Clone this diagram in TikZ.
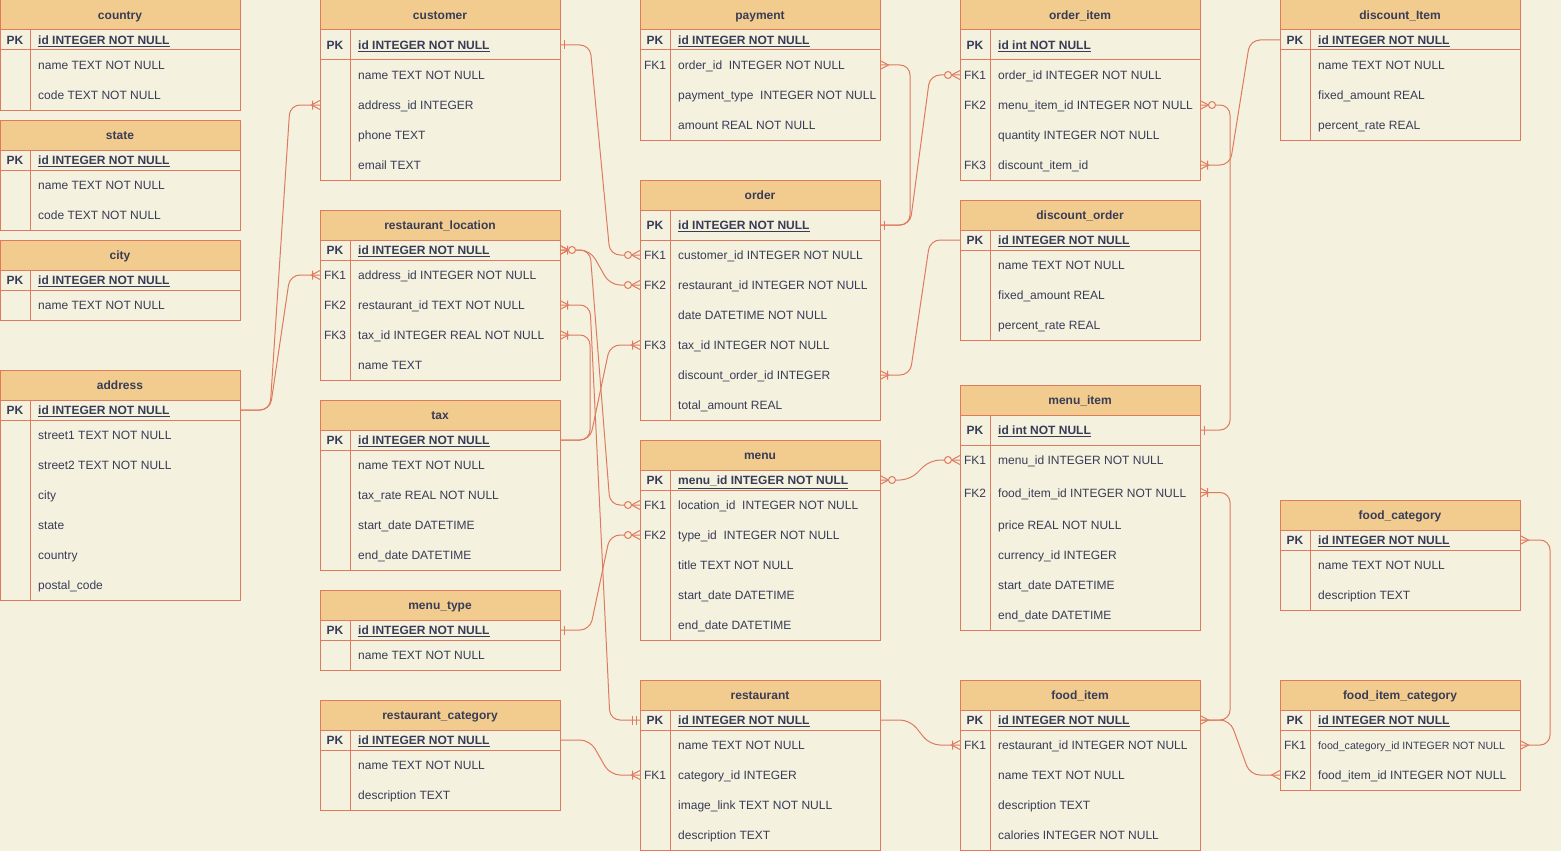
\documentclass[tikz,border=0pt]{standalone}
\usepackage{fontspec}
\setmainfont{Liberation Sans}
\usetikzlibrary{calc}

\definecolor{erbg}{HTML}{F4F1DE}
\definecolor{erfill}{HTML}{F2CC8F}
\definecolor{erstroke}{HTML}{E07A5F}
\definecolor{ertext}{HTML}{393C56}

\newcommand{\smallfield}{\fontsize{10.6pt}{12pt}\selectfont}

% one table: name, x, y, title, height of PK row, PK field, other rows key/field/height
\newcommand{\ertable}[7]{%
  \node[tblhead] (#1) at (#2,#3) {#4};
  \node[tblrow, minimum height=#5pt] (#1-pk) at (#1.south west) {};
  \node[keylabel, font=\bfseries] at ($(#1-pk.west)+(15,0)$) {PK};
  \node[fieldlabel] at ($(#1-pk.west)+(38,0)$) {\textbf{\underline{#6}}};
  \coordinate (#1-end) at (#1-pk.south west);
  \foreach \k/\f/\h [count=\i] in {#7} {
    \node[tblrow, minimum height=\h pt] (#1-\i) at (#1-end) {};
    \node[keylabel] at ($(#1-\i.west)+(15,0)$) {\k};
    \node[fieldlabel] at ($(#1-\i.west)+(38,0)$) {\f};
    \coordinate (#1-end) at (#1-\i.south west);
  }
  \draw[tblline] (#1.north west) rectangle ($(#1-end)+(240,0)$);
  \draw[tblline] (#1-pk.south west) -- (#1-pk.south east);
  \draw[tblline] ($(#1-pk.north west)+(30,0)$) -- ($(#1-end)+(30,0)$);
}

\tikzset{
  tblhead/.style={draw=erstroke, line width=1pt, fill=erfill, text=ertext, font=\bfseries,
    minimum width=240pt, minimum height=30pt, inner sep=0pt, outer sep=0pt, anchor=north west,
    text height=12.4pt, text depth=2.5pt},
  tblrow/.style={minimum width=240pt, inner sep=0pt, outer sep=0pt, anchor=north west},
  tblline/.style={draw=erstroke, line width=1pt},
  keylabel/.style={text=ertext, inner sep=0pt, text height=12.4pt, text depth=2.5pt},
  fieldlabel/.style={keylabel, anchor=west},
  erline/.style={draw=erstroke, line width=1pt},
  link ew/.style={to path={-- ++(30,0) -- ($(\tikztotarget)+(-30,0)$) -- (\tikztotarget)}},
  link ee/.style={to path={-- ++(30,0) -- ($(\tikztotarget)+(30,0)$) -- (\tikztotarget)}},
  link we/.style={to path={-- ++(-30,0) -- ($(\tikztotarget)+(30,0)$) -- (\tikztotarget)}},
  erOne/.pic={\draw[erline] (4,-4.5) -- (4,4.5);},
  erMandOne/.pic={\draw[erline] (4,-4.5) -- (4,4.5) (8,-4.5) -- (8,4.5);},
  erMany/.pic={\draw[erline] (0,-4.5) -- (8.5,0) -- (0,4.5);},
  erOneToMany/.pic={\draw[erline] (0,-4.5) -- (8.5,0) -- (0,4.5) (7.5,-4.5) -- (7.5,4.5);},
  erZeroToMany/.pic={\draw[erline] (0,-4.5) -- (8.5,0) -- (0,4.5);
    \draw[erline, fill=erbg] (12,0) circle (3.5);},
}

\begin{document}
\fontsize{12pt}{14pt}\selectfont
\begin{tikzpicture}[x=1pt, y=-1pt]
  \fill[erbg] (0,0) rectangle (1561,851);
  \useasboundingbox (0,0) rectangle (1561,851);

  \ertable{country}{0}{0}{country}{20}{id INTEGER NOT NULL}
    {/name TEXT NOT NULL/30, /code TEXT NOT NULL/30}
  \ertable{state}{0}{120}{state}{20}{id INTEGER NOT NULL}
    {/name TEXT NOT NULL/30, /code TEXT NOT NULL/30}
  \ertable{city}{0}{240}{city}{20}{id INTEGER NOT NULL}
    {/name TEXT NOT NULL/30}
  \ertable{address}{0}{370}{address}{20}{id INTEGER NOT NULL}
    {/street1 TEXT NOT NULL/30, /street2 TEXT NOT NULL/30, /city/30, /state/30, /country/30, /postal\_code/30}

  \ertable{customer}{320}{0}{customer}{30}{id INTEGER NOT NULL}
    {/name TEXT NOT NULL/30, /address\_id INTEGER/30, /phone TEXT/30, /email TEXT/30}
  \ertable{restLoc}{320}{210}{restaurant\_location}{20}{id INTEGER NOT NULL}
    {FK1/address\_id INTEGER NOT NULL/30, FK2/restaurant\_id TEXT NOT NULL/30,
     FK3/tax\_id INTEGER REAL NOT NULL/30, /name TEXT/30}
  \ertable{tax}{320}{400}{tax}{20}{id INTEGER NOT NULL}
    {/name TEXT NOT NULL/30, /tax\_rate REAL NOT NULL/30, /start\_date DATETIME/30, /end\_date DATETIME/30}
  \ertable{menuType}{320}{590}{menu\_type}{20}{id INTEGER NOT NULL}
    {/name TEXT NOT NULL/30}
  \ertable{restCat}{320}{700}{restaurant\_category}{20}{id INTEGER NOT NULL}
    {/name TEXT NOT NULL/30, /description TEXT/30}

  \ertable{payment}{640}{0}{payment}{20}{id INTEGER NOT NULL}
    {FK1/order\_id\ \ INTEGER NOT NULL/30, /payment\_type\ \ INTEGER NOT NULL/30, /amount REAL NOT NULL/30}
  \ertable{order}{640}{180}{order}{30}{id INTEGER NOT NULL}
    {FK1/customer\_id INTEGER NOT NULL/30, FK2/restaurant\_id INTEGER NOT NULL/30, /date DATETIME NOT NULL/30,
     FK3/tax\_id INTEGER NOT NULL/30, /discount\_order\_id INTEGER/30, /total\_amount REAL/30}
  \ertable{menu}{640}{440}{menu}{20}{menu\_id INTEGER NOT NULL}
    {FK1/location\_id\ \ INTEGER NOT NULL/30, FK2/type\_id\ \ INTEGER NOT NULL/30, /title TEXT NOT NULL/30,
     /start\_date DATETIME/30, /end\_date DATETIME/30}
  \ertable{restaurant}{640}{680}{restaurant}{20}{id INTEGER NOT NULL}
    {/name TEXT NOT NULL/30, FK1/category\_id INTEGER/30, /image\_link TEXT NOT NULL/30, /description TEXT/30}

  \ertable{orderItem}{960}{0}{order\_item}{30}{id int NOT NULL}
    {FK1/order\_id INTEGER NOT NULL/30, FK2/menu\_item\_id INTEGER NOT NULL/30,
     /quantity INTEGER NOT NULL/30, FK3/discount\_item\_id/30}
  \ertable{discOrder}{960}{200}{discount\_order}{20}{id INTEGER NOT NULL}
    {/name TEXT NOT NULL/30, /fixed\_amount REAL/30, /percent\_rate REAL/30}
  \ertable{menuItem}{960}{385}{menu\_item}{30}{id int NOT NULL}
    {FK1/menu\_id INTEGER NOT NULL/30, FK2/food\_item\_id INTEGER NOT NULL/35, /price REAL NOT NULL/30,
     /currency\_id INTEGER/30, /start\_date DATETIME/30, /end\_date DATETIME/30}
  \ertable{foodItem}{960}{680}{food\_item}{20}{id INTEGER NOT NULL}
    {FK1/restaurant\_id INTEGER NOT NULL/30, /name TEXT NOT NULL/30, /description TEXT/30,
     /calories INTEGER NOT NULL/30}

  \ertable{discItem}{1280}{0}{discount\_Item}{20}{id INTEGER NOT NULL}
    {/name TEXT NOT NULL/30, /fixed\_amount REAL/30, /percent\_rate REAL/30}
  \ertable{foodCat}{1280}{500}{food\_category}{20}{id INTEGER NOT NULL}
    {/name TEXT NOT NULL/30, /description TEXT/30}
  \ertable{foodItemCat}{1280}{680}{food\_item\_category}{20}{id INTEGER NOT NULL}
    {FK1/{\smallfield food\_category\_id INTEGER NOT NULL}/30, FK2/food\_item\_id INTEGER NOT NULL/30}

  % relations
  \begin{scope}[erline, rounded corners=10pt]
    \draw (address-pk.east) to[link ew] (customer-2.west);
    \draw (address-pk.east) to[link ew] (restLoc-1.west);
    \draw (customer-pk.east) to[link ew] (order-1.west);
    \draw (restLoc-pk.east) to[link ew] (order-2.west);
    \draw (restLoc-pk.east) to[link ew] (menu-1.west);
    \draw (restLoc-2.east) to[link ew] (restaurant-pk.west);
    \draw (tax-pk.east) to[link ee] (restLoc-3.east);
    \draw (tax-pk.east) to[link ew] (order-4.west);
    \draw (menuType-pk.east) to[link ew] (menu-2.west);
    \draw (restCat-pk.east) to[link ew] (restaurant-2.west);
    \draw (order-pk.east) to[link ee] (payment-1.east);
    \draw (order-pk.east) to[link ew] (orderItem-1.west);
    \draw (discOrder-pk.west) to[link we] (order-5.east);
    \draw (menuItem-pk.east) to[link ee] (orderItem-2.east);
    \draw (discItem-pk.west) to[link we] (orderItem-4.east);
    \draw (menu-pk.east) to[link ew] (menuItem-1.west);
    \draw (foodItem-pk.east) to[link ee] (menuItem-2.east);
    \draw (foodItem-pk.east) to[link ew] (foodItemCat-2.west);
    \draw (foodCat-pk.east) to[link ee] (foodItemCat-1.east);
    \draw (restaurant-pk.east) to[link ew] (foodItem-1.west);
  \end{scope}

  % end marks
  \pic at (customer-pk.east) {erOne};
  \pic[xscale=-1] at (customer-2.west) {erOneToMany};
  \pic[xscale=-1] at (restLoc-1.west) {erOneToMany};
  \pic[xscale=-1] at (order-1.west) {erZeroToMany};
  \pic at (restLoc-pk.east) {erOneToMany};
  \pic at (restLoc-pk.east) {erZeroToMany};
  \pic[xscale=-1] at (order-2.west) {erZeroToMany};
  \pic[xscale=-1] at (menu-1.west) {erZeroToMany};
  \pic at (restLoc-2.east) {erOneToMany};
  \pic[xscale=-1] at (restaurant-pk.west) {erMandOne};
  \pic at (restLoc-3.east) {erOneToMany};
  \pic[xscale=-1] at (order-4.west) {erOneToMany};
  \pic at (menuType-pk.east) {erOne};
  \pic[xscale=-1] at (menu-2.west) {erZeroToMany};
  \pic[xscale=-1] at (restaurant-2.west) {erOneToMany};
  \pic at (order-pk.east) {erOne};
  \pic at (payment-1.east) {erMany};
  \pic[xscale=-1] at (orderItem-1.west) {erZeroToMany};
  \pic at (order-5.east) {erOneToMany};
  \pic at (menuItem-pk.east) {erOne};
  \pic at (orderItem-2.east) {erZeroToMany};
  \pic at (orderItem-4.east) {erOneToMany};
  \pic at (menu-pk.east) {erZeroToMany};
  \pic[xscale=-1] at (menuItem-1.west) {erZeroToMany};
  \pic at (foodItem-pk.east) {erMany};
  \pic at (menuItem-2.east) {erOneToMany};
  \pic[xscale=-1] at (foodItemCat-2.west) {erMany};
  \pic at (foodCat-pk.east) {erMany};
  \pic at (foodItemCat-1.east) {erMany};
  \pic[xscale=-1] at (foodItem-1.west) {erOneToMany};
\end{tikzpicture}
\end{document}
